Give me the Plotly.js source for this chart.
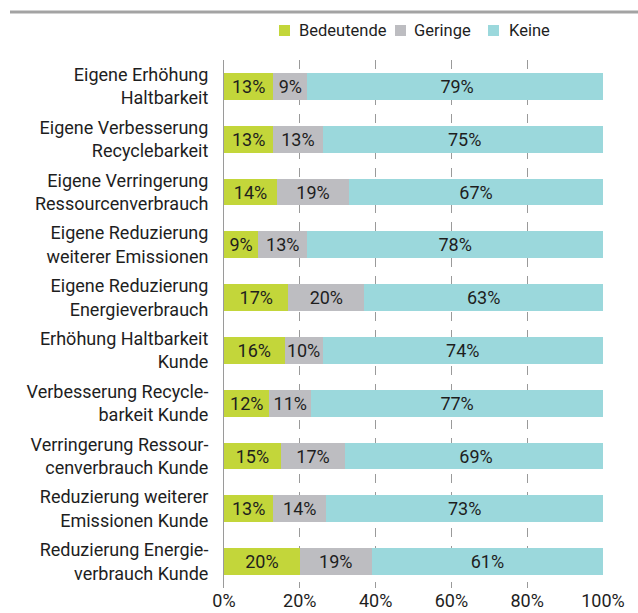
<!DOCTYPE html>
<html><head><meta charset="utf-8">
<script src="https://cdn.plot.ly/plotly-3.0.1.min.js"></script>
<style>html,body{margin:0;padding:0;background:#fff}#chart{width:638px;height:613px}</style>
</head><body><div id="chart"></div>
<script>
const categories = [
  "Eigene Erhöhung<br>Haltbarkeit",
  "Eigene Verbesserung<br>Recyclebarkeit",
  "Eigene Verringerung<br>Ressourcenverbrauch",
  "Eigene Reduzierung<br>weiterer Emissionen",
  "Eigene Reduzierung<br>Energieverbrauch",
  "Erhöhung Haltbarkeit<br>Kunde",
  "Verbesserung Recycle-<br>barkeit Kunde",
  "Verringerung Ressour-<br>cenverbrauch Kunde",
  "Reduzierung weiterer<br>Emissionen Kunde",
  "Reduzierung Energie-<br>verbrauch Kunde"
];
const bedeutende = [13, 13, 14, 9, 17, 16, 12, 15, 13, 20];
const geringe    = [9, 13, 19, 13, 20, 10, 11, 17, 14, 19];
const keine      = [79, 75, 67, 78, 63, 74, 77, 69, 73, 61];
const seriesNames = ["Bedeutende", "Geringe", "Keine"];
const colors = ["#c3d63a", "#bdbdc1", "#9bd8dc"];
const tickVals = [0, 20, 40, 60, 80, 100];
const tickText = ["0%", "20%", "40%", "60%", "80%", "100%"];

const FONT = "Roboto, 'Open Sans', sans-serif";
const TXT = "#1e1e1e";
const series = [bedeutende, geringe, keine];
const traces = series.map((vals, i) => ({
  type: "bar", orientation: "h",
  name: seriesNames[i],
  y: categories, x: vals,
  text: vals.map(v => v + "%"),
  texttemplate: "%{text}",
  marker: {color: colors[i], line: {width: 0}},
  textposition: "inside",
  insidetextanchor: "middle",
  constraintext: "none",
  textfont: {family: FONT, size: 18, color: TXT},
  hoverinfo: "skip",
  showlegend: false
}));

// custom legend (squares + labels) in paper coordinates
const PL = 224, PW = 379, PT = 60, PB = 588, PH = PB - PT;
const px = v => (v - PL) / PW;
const py = v => (PB - v) / PH;
const legendSq = [279, 395, 488];
const legendTx = [297, 412, 507];
const shapes = [{type: "line", xref: "paper", yref: "paper", x0: px(10), x1: px(640), y0: py(12), y1: py(12),
                 line: {color: "#a3a3a3", width: 3}}];
const annotations = [];
seriesNames.forEach((n, i) => {
  shapes.push({type: "rect", xref: "paper", yref: "paper", x0: px(legendSq[i]), x1: px(legendSq[i] + 11),
               y0: py(36), y1: py(25), fillcolor: colors[i], line: {width: 0}});
  annotations.push({xref: "paper", yref: "paper", x: px(legendTx[i]), y: py(30.5), xanchor: "left", yanchor: "middle",
                    text: n, showarrow: false, font: {family: FONT, size: 16.5, color: TXT}});
});

const layout = {
  width: 638, height: 613,
  margin: {l: PL, r: 638 - PL - PW, t: PT, b: 613 - PB, pad: 0},
  paper_bgcolor: "#fff", plot_bgcolor: "#fff",
  barmode: "stack", bargap: 0.49,
  font: {family: FONT, size: 18, color: TXT},
  showlegend: false,
  xaxis: {range: [0, 100], tickvals: tickVals, ticktext: tickText,
          showgrid: true, gridcolor: "#9a9a9a", griddash: "dash", gridwidth: 1,
          zeroline: false, showline: false, ticks: "",
          tickfont: {family: FONT, size: 18, color: TXT}, fixedrange: true},
  yaxis: {autorange: "reversed", showline: true, linecolor: "#9a9a9a", linewidth: 1,
          showgrid: false, ticks: "outside", ticklen: 11, tickcolor: "rgba(0,0,0,0)",
          tickfont: {family: FONT, size: 18, color: TXT}},
  shapes: shapes,
  annotations: annotations
};
Plotly.newPlot("chart", traces, layout, {displayModeBar: false, staticPlot: true});
</script></body></html>
